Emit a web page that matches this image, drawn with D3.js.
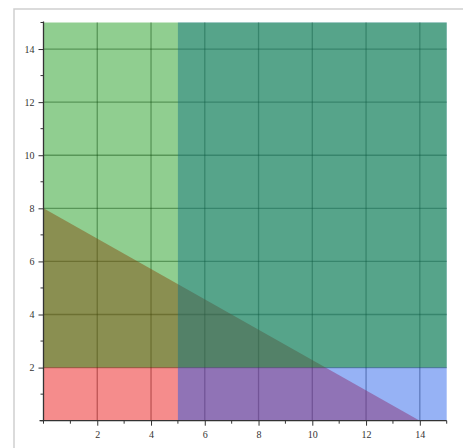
<!DOCTYPE html>
<html><head><meta charset="utf-8">
<script src="https://cdn.jsdelivr.net/npm/d3@7"></script>
<style>body{margin:0;background:#fff}svg{display:block}</style>
</head><body>
<svg id="c" width="463" height="448"></svg>
<script>
const xDomain = [0, 15];
const yDomain = [0, 15];
const majorTicks = [2, 4, 6, 8, 10, 12, 14];
const minorTicks = [0, 1, 3, 5, 7, 9, 11, 13, 15];
// Regions (data-space vertices)
const redRegion = [[0,0],[0,8],[14,0]];          // 4x + 7y <= 56
const blueRegion = [[5,0],[15,0],[15,15],[5,15]]; // x >= 5
const greenRegion = [[0,2],[15,2],[15,15],[0,15]]; // y >= 2
const regions = [
  {pts: redRegion, color: "rgb(233,0,0)"},
  {pts: blueRegion, color: "rgb(22,84,233)"},
  {pts: greenRegion, color: "rgb(9,146,9)"}
];

const svg = d3.select("#c");
const M = {l: 43.5, r: 446.7, t: 22.5, b: 420.7};
const x = d3.scaleLinear().domain(xDomain).range([M.l, M.r]);
const y = d3.scaleLinear().domain(yDomain).range([M.b, M.t]);

// outer frame
svg.append("path").attr("d", "M14,448 L14,9 L463,9")
  .attr("fill","none").attr("stroke","#cfcfcf").attr("stroke-width",1.5);

// grid (under fills)
const g = svg.append("g");
majorTicks.forEach(v => {
  g.append("line").attr("x1", x(v)).attr("x2", x(v)).attr("y1", y(0)).attr("y2", y(15))
    .attr("stroke","#000").attr("stroke-opacity",0.4).attr("stroke-width",1.3);
  g.append("line").attr("y1", y(v)).attr("y2", y(v)).attr("x1", x(0)).attr("x2", x(15))
    .attr("stroke","#000").attr("stroke-opacity",0.4).attr("stroke-width",1.3);
});

const line = d3.line().x(d => x(d[0])).y(d => y(d[1]));
svg.selectAll("path.reg").data(regions).enter().append("path")
  .attr("class","reg")
  .attr("d", d => line(d.pts) + "Z")
  .attr("fill", d => d.color).attr("fill-opacity", 0.45).attr("stroke","none");

// axes
const xAxis = d3.axisBottom(x).tickValues(majorTicks).tickSize(5).tickSizeOuter(0).tickPadding(5);
const yAxis = d3.axisLeft(y).tickValues(majorTicks).tickSize(5).tickSizeOuter(0).tickPadding(4);
const gx = svg.append("g").attr("transform", `translate(0,${y(0)})`).call(xAxis);
const gy = svg.append("g").attr("transform", `translate(${x(0)},0)`).call(yAxis);
gx.append("g").selectAll("line").data(minorTicks).enter().append("line")
  .attr("x1", d => x(d)).attr("x2", d => x(d)).attr("y1", 0).attr("y2", 3).attr("stroke","#333");
gy.append("g").selectAll("line").data(minorTicks).enter().append("line")
  .attr("y1", d => y(d)).attr("y2", d => y(d)).attr("x1", 0).attr("x2", -3).attr("stroke","#333");
[gx, gy].forEach(a => {
  a.select(".domain").attr("stroke","#333").attr("stroke-width",1.3);
  a.selectAll(".tick line").attr("stroke","#333");
  a.selectAll("text").attr("font-family","Liberation Serif, DejaVu Serif, serif")
    .attr("font-size", 10).attr("fill","#333");
});
gx.select(".domain").attr("d", `M${x(0)-4},0H${x(15)}`);
gy.select(".domain").attr("d", `M0,${y(0)}V${y(15)-1}`);
</script>
</body></html>
